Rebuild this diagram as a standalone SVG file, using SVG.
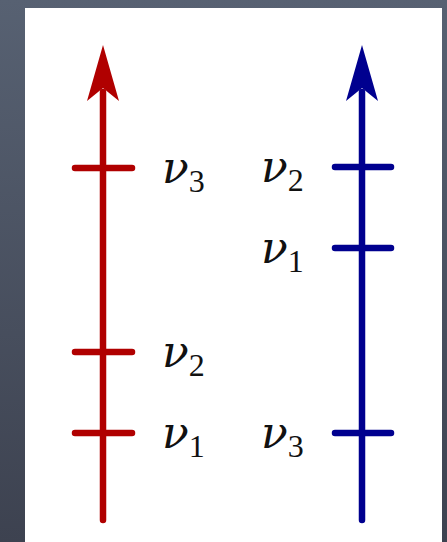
<svg xmlns="http://www.w3.org/2000/svg" width="447" height="542" viewBox="0 0 447 542">
<defs>
<linearGradient id="bg" x1="0" y1="0" x2="0" y2="1">
<stop offset="0" stop-color="#576172"/>
<stop offset="1" stop-color="#3d4250"/>
</linearGradient>
</defs>
<style>
.red{stroke:#b00000;fill:none;stroke-width:6.5;stroke-linecap:round}
.blue{stroke:#00008f;fill:none;stroke-width:6.5;stroke-linecap:round}
.lbl{font-family:"DejaVu Serif","Liberation Serif",serif;font-style:italic;font-size:44px;fill:#111}
.sub{font-family:"Liberation Serif",serif;font-style:normal;font-size:32px}
</style>
<rect width="447" height="542" fill="url(#bg)"/>
<rect x="25" y="8" width="417" height="534" fill="#fff"/>
<g id="connectors">
<g id="red-axis">
<line class="red" x1="103" y1="520" x2="103" y2="92"/>
<path d="M103,45 L119,101 L103,88 L87,101 Z" fill="#b00000"/>
</g>
<g id="blue-axis">
<line class="blue" x1="362" y1="520" x2="362" y2="92"/>
<path d="M362,45 L378,101 L362,88 L346,101 Z" fill="#00008f"/>
</g>
</g>
<g id="red-nu3"><line class="red" x1="75" y1="168" x2="132" y2="168"/><text class="lbl" x="162" y="183">ν<tspan class="sub" dy="9">3</tspan></text></g>
<g id="red-nu2"><line class="red" x1="75" y1="352" x2="132" y2="352"/><text class="lbl" x="162" y="367">ν<tspan class="sub" dy="9">2</tspan></text></g>
<g id="red-nu1"><line class="red" x1="75" y1="433" x2="132" y2="433"/><text class="lbl" x="162" y="448">ν<tspan class="sub" dy="9">1</tspan></text></g>
<g id="blue-nu2"><line class="blue" x1="335" y1="167" x2="391" y2="167"/><text class="lbl" x="261" y="182">ν<tspan class="sub" dy="9">2</tspan></text></g>
<g id="blue-nu1"><line class="blue" x1="335" y1="248" x2="391" y2="248"/><text class="lbl" x="261" y="263">ν<tspan class="sub" dy="9">1</tspan></text></g>
<g id="blue-nu3"><line class="blue" x1="335" y1="433" x2="391" y2="433"/><text class="lbl" x="261" y="448">ν<tspan class="sub" dy="9">3</tspan></text></g>
</svg>
